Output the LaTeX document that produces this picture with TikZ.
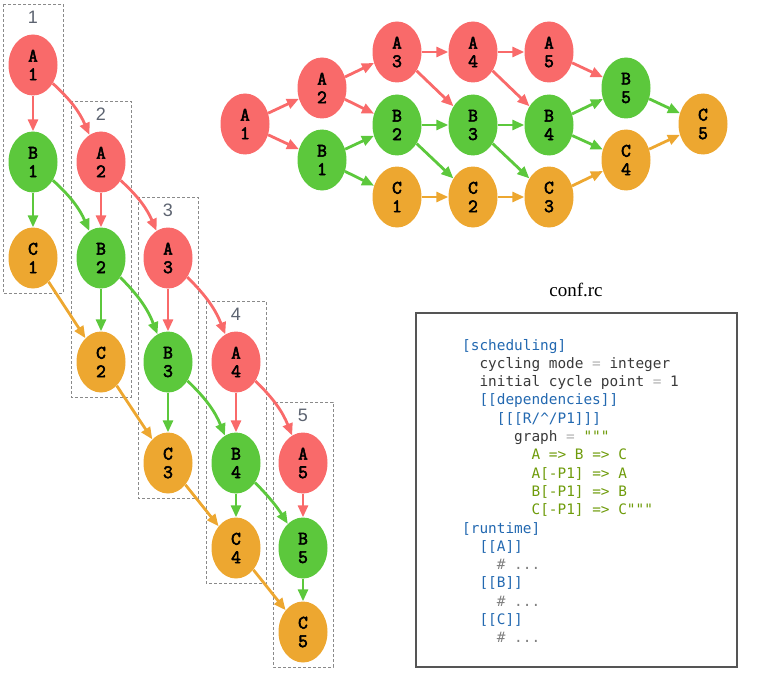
\documentclass[tikz,border=0pt]{standalone}
\usepackage{fontspec}
\setmainfont{Liberation Serif}
\newfontfamily\numfont{Liberation Sans}
\newfontfamily\taskfont{Latin Modern Mono}[FakeBold=3]
\newfontfamily\codefont{DejaVu Sans Mono}[Ligatures=TeXOff]
\usetikzlibrary{arrows.meta,shapes.geometric}
\definecolor{jobred}{HTML}{F96A6A}
\definecolor{jobgreen}{HTML}{5CC83C}
\definecolor{joborange}{HTML}{EDA730}
\definecolor{secblue}{HTML}{2268B0}
\definecolor{strgreen}{HTML}{6E9B0A}
\definecolor{keygray}{HTML}{3A3A3A}
\definecolor{eqgray}{HTML}{B0B0B0}
\definecolor{comgray}{HTML}{808080}
\definecolor{boxgray}{HTML}{8A8A8A}
\definecolor{numgray}{HTML}{5C6370}
\definecolor{framegray}{HTML}{555555}
\newcommand{\cfgsec}[1]{\textcolor{secblue}{#1}}
\newcommand{\cfgstr}[1]{\textcolor{strgreen}{#1}}
\newcommand{\cfgeq}[1]{\textcolor{eqgray}{#1}}
\newcommand{\cfgcom}[1]{\textcolor{comgray}{#1}}
\tikzset{
  task/.style={ellipse, minimum width=49pt, minimum height=61pt, inner sep=0pt,
    align=center, font=\taskfont\fontsize{19}{18.5}\selectfont},
  taskA/.style={task, fill=jobred},
  taskB/.style={task, fill=jobgreen},
  taskC/.style={task, fill=joborange},
  dep/.style={line width=2.8pt, -{Triangle[length=12pt,width=10pt]}},
  depA/.style={dep, draw=jobred},
  depB/.style={dep, draw=jobgreen},
  depC/.style={dep, draw=joborange},
  cycbox/.style={draw=boxgray, line width=0.8pt, dash pattern=on 3pt off 2pt},
  cycnum/.style={font=\numfont\fontsize{18}{18}\selectfont, text=numgray},
  codeline/.style={anchor=base west, inner sep=0pt,
    font=\codefont\fontsize{14.4}{18}\selectfont, text=keygray}
}
\begin{document}
\begin{tikzpicture}[x=1pt,y=-1pt]
  \useasboundingbox (0,0) rectangle (760,690);
  % cycle boxes
  \draw[cycbox] (3,4) rectangle (63,293);
  \draw[cycbox] (71,101) rectangle (131,397);
  \draw[cycbox] (138,197) rectangle (198,498);
  \draw[cycbox] (206,301) rectangle (266,583);
  \draw[cycbox] (273,402) rectangle (333,667);
  \node[cycnum] (n1) at (33,17) {1};
  \node[cycnum] (n2) at (101,114) {2};
  \node[cycnum] (n3) at (168,210) {3};
  \node[cycnum] (n4) at (236,314) {4};
  \node[cycnum] (n5) at (303,415) {5};
  % tasks per cycle
  \node[taskA] (a1) at (33,65) {A\\1};
  \node[taskB] (b1) at (33,162) {B\\1};
  \node[taskC] (c1) at (33,258) {C\\1};
  \node[taskA] (a2) at (101,162) {A\\2};
  \node[taskB] (b2) at (101,258) {B\\2};
  \node[taskC] (c2) at (101,362) {C\\2};
  \node[taskA] (a3) at (168,258) {A\\3};
  \node[taskB] (b3) at (168,362) {B\\3};
  \node[taskC] (c3) at (168,463) {C\\3};
  \node[taskA] (a4) at (236,362) {A\\4};
  \node[taskB] (b4) at (236,463) {B\\4};
  \node[taskC] (c4) at (236,548) {C\\4};
  \node[taskA] (a5) at (303,463) {A\\5};
  \node[taskB] (b5) at (303,548) {B\\5};
  \node[taskC] (c5) at (303,632) {C\\5};
  \draw[depA] (a1)--(b1); \draw[depB] (b1)--(c1);
  \draw[depA] (a2)--(b2); \draw[depB] (b2)--(c2);
  \draw[depA] (a3)--(b3); \draw[depB] (b3)--(c3);
  \draw[depA] (a4)--(b4); \draw[depB] (b4)--(c4);
  \draw[depA] (a5)--(b5); \draw[depB] (b5)--(c5);
  \draw[depA] (a1) to[bend left=12] (a2);
  \draw[depA] (a2) to[bend left=12] (a3);
  \draw[depA] (a3) to[bend left=12] (a4);
  \draw[depA] (a4) to[bend left=12] (a5);
  \draw[depB] (b1) to[bend left=12] (b2);
  \draw[depB] (b2) to[bend left=12] (b3);
  \draw[depB] (b3) to[bend left=12] (b4);
  \draw[depB] (b4) to[bend left=6] (b5);
  \draw[depC] (c1)--(c2); \draw[depC] (c2)--(c3);
  \draw[depC] (c3)--(c4); \draw[depC] (c4)--(c5);
  % whole graph
  \node[taskA] (ga1) at (245,124) {A\\1};
  \node[taskA] (ga2) at (322,88) {A\\2};
  \node[taskB] (gb1) at (322,160) {B\\1};
  \node[taskA] (ga3) at (397,52) {A\\3};
  \node[taskB] (gb2) at (397,125) {B\\2};
  \node[taskC] (gc1) at (397,197) {C\\1};
  \node[taskA] (ga4) at (473,52) {A\\4};
  \node[taskB] (gb3) at (473,125) {B\\3};
  \node[taskC] (gc2) at (473,197) {C\\2};
  \node[taskA] (ga5) at (549,52) {A\\5};
  \node[taskB] (gb4) at (549,125) {B\\4};
  \node[taskC] (gc3) at (549,197) {C\\3};
  \node[taskB] (gb5) at (626,88) {B\\5};
  \node[taskC] (gc4) at (626,160) {C\\4};
  \node[taskC] (gc5) at (703,124) {C\\5};
  \draw[depA] (ga1)--(ga2); \draw[depA] (ga1)--(gb1);
  \draw[depA] (ga2)--(ga3); \draw[depA] (ga2)--(gb2);
  \draw[depB] (gb1)--(gb2); \draw[depB] (gb1)--(gc1);
  \draw[depA] (ga3)--(ga4); \draw[depA] (ga3)--(gb3);
  \draw[depB] (gb2)--(gb3); \draw[depB] (gb2)--(gc2);
  \draw[depC] (gc1)--(gc2);
  \draw[depA] (ga4)--(ga5); \draw[depA] (ga4)--(gb4);
  \draw[depB] (gb3)--(gb4); \draw[depB] (gb3)--(gc3);
  \draw[depC] (gc2)--(gc3);
  \draw[depA] (ga5)--(gb5);
  \draw[depB] (gb4)--(gb5); \draw[depB] (gb4)--(gc4);
  \draw[depC] (gc3)--(gc4);
  \draw[depB] (gb5)--(gc5); \draw[depC] (gc4)--(gc5);
  % suite configuration
  \node[font=\fontsize{19}{19}\selectfont] (title) at (576,290) {conf.rc};
  \draw[draw=framegray, line width=1.4pt] (416,313) rectangle (737,667);
  \node[codeline] (l1) at (462,350) {\cfgsec{[scheduling]}};
  \node[codeline] (l2) at (479.3,368.3) {cycling mode \cfgeq{=} integer};
  \node[codeline] (l3) at (479.3,386.6) {initial cycle point \cfgeq{=} 1};
  \node[codeline] (l4) at (479.3,404.9) {\cfgsec{[[dependencies]]}};
  \node[codeline] (l5) at (496.7,423.2) {\cfgsec{[[[R/\textasciicircum/P1]]]}};
  \node[codeline] (l6) at (514,441.5) {graph \cfgeq{=} \cfgstr{"""}};
  \node[codeline] (l7) at (531.4,459.8) {\cfgstr{A => B => C}};
  \node[codeline] (l8) at (531.4,478.1) {\cfgstr{A[-P1] => A}};
  \node[codeline] (l9) at (531.4,496.4) {\cfgstr{B[-P1] => B}};
  \node[codeline] (l10) at (531.4,514.7) {\cfgstr{C[-P1] => C"""}};
  \node[codeline] (l11) at (462,533) {\cfgsec{[runtime]}};
  \node[codeline] (l12) at (479.3,551.3) {\cfgsec{[[A]]}};
  \node[codeline] (l13) at (496.7,569.6) {\cfgcom{\# ...}};
  \node[codeline] (l14) at (479.3,587.9) {\cfgsec{[[B]]}};
  \node[codeline] (l15) at (496.7,606.2) {\cfgcom{\# ...}};
  \node[codeline] (l16) at (479.3,624.5) {\cfgsec{[[C]]}};
  \node[codeline] (l17) at (496.7,642.8) {\cfgcom{\# ...}};
\end{tikzpicture}
\end{document}
